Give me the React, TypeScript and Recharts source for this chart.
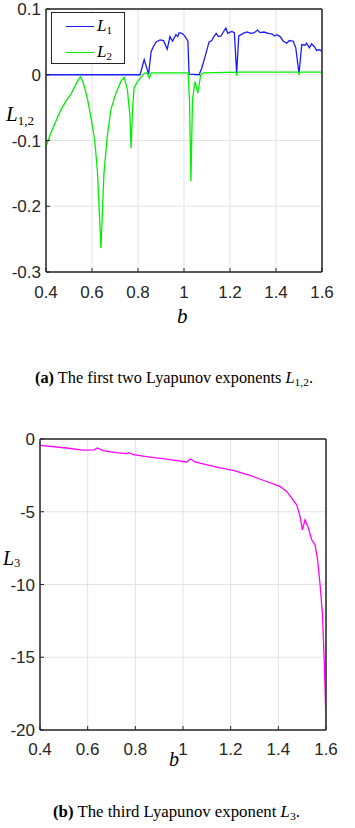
import React from 'react';
import { LineChart, Line, XAxis, YAxis, CartesianGrid, Legend, ReferenceArea } from 'recharts';

const xTicks = [0.4, 0.6, 0.8, 1, 1.2, 1.4, 1.6];
const yTicksA = [-0.3, -0.2, -0.1, 0, 0.1];
const yTicksB = [-20, -15, -10, -5, 0];

// L1 (blue)
const l1B = [0.4, 0.809, 0.827, 0.846, 0.857, 0.867, 0.879, 0.896, 0.911, 0.927, 0.939, 0.95, 0.965, 0.973, 0.979, 0.991, 0.998, 1.005, 1.017, 1.022, 1.066, 1.077, 1.092, 1.109, 1.121, 1.128, 1.14, 1.15, 1.161, 1.171, 1.182, 1.19, 1.196, 1.208, 1.219, 1.229, 1.238, 1.258, 1.273, 1.292, 1.306, 1.319, 1.331, 1.348, 1.367, 1.384, 1.393, 1.403, 1.418, 1.432, 1.447, 1.458, 1.475, 1.486, 1.5, 1.512, 1.526, 1.533, 1.545, 1.555, 1.566, 1.577, 1.588, 1.6];
const l1Vals = [0, 0, 0.023, 0.001, 0.035, 0.043, 0.05, 0.053, 0.052, 0.039, 0.058, 0.051, 0.061, 0.058, 0.064, 0.063, 0.061, 0.058, 0.051, 0.001, 0, 0.01, 0.028, 0.05, 0.052, 0.057, 0.063, 0.058, 0.059, 0.065, 0.071, 0.063, 0.064, 0.066, 0.064, 0.0015, 0.059, 0.063, 0.065, 0.063, 0.064, 0.068, 0.064, 0.065, 0.063, 0.062, 0.059, 0.061, 0.058, 0.051, 0.048, 0.052, 0.051, 0.041, 0.0015, 0.046, 0.045, 0.048, 0.041, 0.047, 0.043, 0.037, 0.038, 0.036];

// L2 (green)
const l2B = [0.4, 0.422, 0.444, 0.465, 0.487, 0.509, 0.525, 0.537, 0.549, 0.56, 0.57, 0.581, 0.592, 0.602, 0.612, 0.624, 0.639, 0.652, 0.666, 0.682, 0.704, 0.726, 0.74, 0.754, 0.765, 0.77, 0.776, 0.783, 0.798, 0.813, 0.827, 0.84, 0.849, 0.858, 1.018, 1.024, 1.03, 1.037, 1.048, 1.06, 1.073, 1.084, 1.225, 1.229, 1.233, 1.496, 1.5, 1.504, 1.6];
const l2Vals = [-0.109, -0.088, -0.07, -0.053, -0.04, -0.029, -0.018, -0.01, -0.003, -0.01, -0.022, -0.038, -0.058, -0.079, -0.1, -0.149, -0.264, -0.15, -0.095, -0.053, -0.028, -0.01, -0.004, -0.023, -0.063, -0.112, -0.053, -0.02, -0.01, -0.004, 0.002, 0.003, -0.005, 0.003, 0.003, -0.04, -0.162, -0.038, -0.01, -0.028, 0, 0.003, 0.004, 0, 0.004, 0.004, 0.001, 0.004, 0.004];

// L3 (magenta)
const l3B = [0.4, 0.511, 0.581, 0.627, 0.641, 0.665, 0.721, 0.763, 0.774, 0.791, 0.861, 0.931, 1.015, 1.032, 1.05, 1.141, 1.211, 1.281, 1.351, 1.407, 1.435, 1.456, 1.477, 1.491, 1.501, 1.512, 1.526, 1.54, 1.554, 1.564, 1.575, 1.585, 1.593, 1.599, 1.6];
const l3Vals = [-0.44, -0.62, -0.76, -0.75, -0.62, -0.8, -0.94, -1.01, -0.94, -1.08, -1.24, -1.38, -1.58, -1.38, -1.58, -1.93, -2.16, -2.5, -2.92, -3.26, -3.6, -4.06, -4.52, -5.32, -6.24, -5.55, -6.12, -6.93, -7.27, -8.2, -10, -12, -15.4, -18.9, -19.8];

const toRows = (bs: number[], vs: number[]) => bs.map((b, i) => ({ b, v: vs[i] }));
const l1Data = toRows(l1B, l1Vals);
const l2Data = toRows(l2B, l2Vals);
const l3Data = toRows(l3B, l3Vals);

const AXIS = '#262626';
const GRID = '#e3e3e3';
const BLUE = '#1a1aff';
const GREEN = '#00f000';
const MAGENTA = '#ff00ff';
const TICK_FONT = "'Liberation Sans Narrow', 'Arial Narrow', 'Liberation Sans', Arial, sans-serif";
const SERIF = "'Liberation Serif', 'Times New Roman', serif";

const tickStyle = { fontFamily: TICK_FONT, fontSize: 17, fill: AXIS };

const LegendBox = () => (
  <div style={{ position: 'relative', width: 74, height: 52, border: `1px solid ${AXIS}`, background: '#fff', boxSizing: 'border-box' }}>
    {[{ sub: '1', color: BLUE, y: 13 }, { sub: '2', color: GREEN, y: 39 }].map((r) => (
      <div key={r.sub} style={{ position: 'absolute', left: 0, top: r.y - 10, height: 20, width: 74 }}>
        <div style={{ position: 'absolute', left: 14, top: 10, width: 28, borderTop: `1.3px solid ${r.color}` }} />
        <div style={{ position: 'absolute', left: 45, top: 0, fontFamily: SERIF, fontSize: 17, lineHeight: '20px', color: '#000' }}>
          <i>L</i><span style={{ fontSize: 11, verticalAlign: -3 }}>{r.sub}</span>
        </div>
      </div>
    ))}
  </div>
);

const abs = (left: number, top: number): React.CSSProperties => ({ position: 'absolute', left, top });

// caption drawn as svg text stretched to the measured width
const Caption = ({ top, x, width, tag, body, sub }: { top: number; x: number; width: number; tag: string; body: string; sub: string }) => (
  <svg style={abs(0, top)} width={355} height={22}>
    <text x={x} y={16} textLength={width} lengthAdjust="spacingAndGlyphs" fontFamily={SERIF} fontSize={15.7} fill="#000">
      <tspan fontWeight="bold">{tag}</tspan>
      <tspan>{` ${body} `}</tspan>
      <tspan fontStyle="italic">L</tspan>
      <tspan fontSize={11} dy={3}>{sub}</tspan>
      <tspan dy={-3}>.</tspan>
    </text>
  </svg>
);

export default function App() {
  return (
    <div style={{ position: 'absolute', left: 0, top: 0, width: 355, height: 828, background: '#fff', overflow: 'hidden' }}>
      {/* (a) L1, L2 */}
      <div style={abs(0, 0)}>
        <LineChart width={355} height={340} margin={{ top: 8, right: 32, bottom: 28, left: 0 }}>
          <CartesianGrid stroke={GRID} strokeWidth={1} />
          <XAxis dataKey="b" type="number" domain={[0.4, 1.6]} ticks={xTicks} allowDataOverflow height={40}
            stroke={AXIS} tickSize={-4} tickMargin={18} tick={tickStyle} interval={0} />
          <XAxis xAxisId="top" dataKey="b" orientation="top" type="number" domain={[0.4, 1.6]} ticks={xTicks} allowDataOverflow
            height={1} stroke={AXIS} tickSize={-4} tick={false} interval={0} />
          <YAxis type="number" domain={[-0.3, 0.1]} ticks={yTicksA} allowDataOverflow width={46}
            stroke={AXIS} tickSize={-4} tickMargin={9} tick={tickStyle} interval={0} />
          <YAxis yAxisId="right" orientation="right" type="number" domain={[-0.3, 0.1]} ticks={yTicksA} allowDataOverflow
            width={1} stroke={AXIS} tickSize={-4} tick={false} interval={0} />
          <ReferenceArea x1={0.4} x2={1.6} y1={-0.3} y2={0.1} fill="none" stroke={AXIS} strokeWidth={1} ifOverflow="visible" />
          <Line data={l1Data} dataKey="v" stroke={BLUE} strokeWidth={1.3} dot={false} isAnimationActive={false} />
          <Line data={l2Data} dataKey="v" stroke={GREEN} strokeWidth={1.3} dot={false} isAnimationActive={false} />
          <Legend content={<LegendBox />} layout="horizontal" verticalAlign="middle" align="center"
            wrapperStyle={{ left: 51, top: 12, width: 74, height: 52 }} />
        </LineChart>
      </div>
      <div style={{ ...abs(6, 104), fontFamily: SERIF, fontSize: 21, lineHeight: '21px' }}>
        <i>L</i><span style={{ fontSize: 13, verticalAlign: -4 }}>1,2</span>
      </div>
      <div style={{ ...abs(177, 306), fontFamily: SERIF, fontSize: 21, lineHeight: '21px' }}><i>b</i></div>
      <Caption top={367} x={35} width={278} tag="(a)" body="The first two Lyapunov exponents" sub="1,2" />

      {/* (b) L3 */}
      <div style={abs(0, 430)}>
        <LineChart width={355} height={340} margin={{ top: 8, right: 28, bottom: 10, left: 0 }}>
          <CartesianGrid stroke={GRID} strokeWidth={1} />
          <XAxis dataKey="b" type="number" domain={[0.4, 1.6]} ticks={xTicks} allowDataOverflow height={30}
            stroke={AXIS} tickSize={-4} tickMargin={17} tick={tickStyle} interval={0} />
          <XAxis xAxisId="top" dataKey="b" orientation="top" type="number" domain={[0.4, 1.6]} ticks={xTicks} allowDataOverflow
            height={1} stroke={AXIS} tickSize={-4} tick={false} interval={0} />
          <YAxis type="number" domain={[-20, 0]} ticks={yTicksB} allowDataOverflow width={40}
            stroke={AXIS} tickSize={-4} tickMargin={9} tick={tickStyle} interval={0} />
          <YAxis yAxisId="right" orientation="right" type="number" domain={[-20, 0]} ticks={yTicksB} allowDataOverflow
            width={1} stroke={AXIS} tickSize={-4} tick={false} interval={0} />
          <ReferenceArea x1={0.4} x2={1.6} y1={-20} y2={0} fill="none" stroke={AXIS} strokeWidth={1} ifOverflow="visible" />
          <Line data={l3Data} dataKey="v" stroke={MAGENTA} strokeWidth={1.3} dot={false} isAnimationActive={false} />
        </LineChart>
      </div>
      <div style={{ ...abs(3, 548), fontFamily: SERIF, fontSize: 20, lineHeight: '20px' }}>
        <i>L</i><span style={{ fontSize: 12, verticalAlign: -2 }}>3</span>
      </div>
      <div style={{ ...abs(169, 749), fontFamily: SERIF, fontSize: 20, lineHeight: '20px' }}><i>b</i></div>
      <Caption top={801} x={53} width={247} tag="(b)" body="The third Lyapunov exponent" sub="3" />
    </div>
  );
}
